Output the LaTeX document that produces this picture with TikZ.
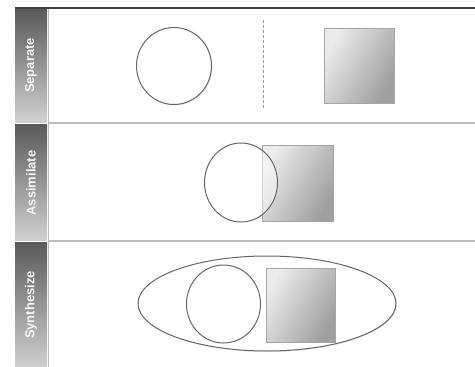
\documentclass[tikz,border=0pt]{standalone}
\usepackage{fontspec}
\setsansfont{Liberation Sans}
\usepackage{tikz}
\usetikzlibrary{shadows}
\definecolor{bardark}{HTML}{5A5A5A}
\definecolor{barlight}{HTML}{D0D0D0}
\definecolor{rulegray}{HTML}{BDBDBD}
\definecolor{edgegray}{HTML}{666666}
\tikzset{
  barseg/.style={top color=bardark,bottom color=barlight,draw=none},
  rowlabel/.style={rotate=90,text=white!92!gray,font=\sffamily\bfseries\fontsize{13}{15}\selectfont},
  blob/.style={fill=white,draw=edgegray,line width=1pt,drop shadow={opacity=0.2,shadow xshift=1pt,shadow yshift=-1pt}},
  box/.style={draw=gray!70,line width=0.6pt,left color=gray!15,right color=gray!75,shading angle=60}
}

\begin{document}
\begin{tikzpicture}[x=1pt,y=-1pt]
\useasboundingbox (0,0) rectangle (475,367);
% label bar, three pieces
\fill[barseg] (15,9) rectangle (47,122);
\fill[barseg] (15,124) rectangle (47,240);
\fill[barseg] (15,242) rectangle (47,367);
\node[rowlabel] (sep) at (31,65.5){Separate};
\node[rowlabel] (asm) at (31,183){Assimilate};
\node[rowlabel] (syn) at (31,305){Synthesize};
% frame and row rules
\draw[black!75,line width=2pt] (15,8)--(475,8);
\draw[rulegray,line width=0.8pt] (48.5,9)--(48.5,367);
\draw[rulegray,line width=2pt] (48,123)--(475,123);
\draw[rulegray,line width=2pt] (48,241)--(475,241);
% row 1: apart
\draw[blob] (174,66) circle[x radius=37.5pt,y radius=38.5pt];
\draw[gray!80,line width=0.8pt,dash pattern=on 3pt off 2pt] (263,20)--(263,108);
\shade[box] (324,28) rectangle (394,103);
% row 2: overlap
\shade[box] (262,145) rectangle (333,221);
\draw[edgegray,line width=1pt,fill=white,fill opacity=0.45] (241,182.5) circle[x radius=36.5pt,y radius=39.5pt];
% row 3: enclosed
\draw[blob] (267,303.5) circle[x radius=129pt,y radius=47.5pt];
\draw[edgegray,line width=1pt,fill=white] (223.5,304) circle[x radius=37pt,y radius=39pt];
\shade[box] (266,268) rectangle (335,342);
\end{tikzpicture}
\end{document}
